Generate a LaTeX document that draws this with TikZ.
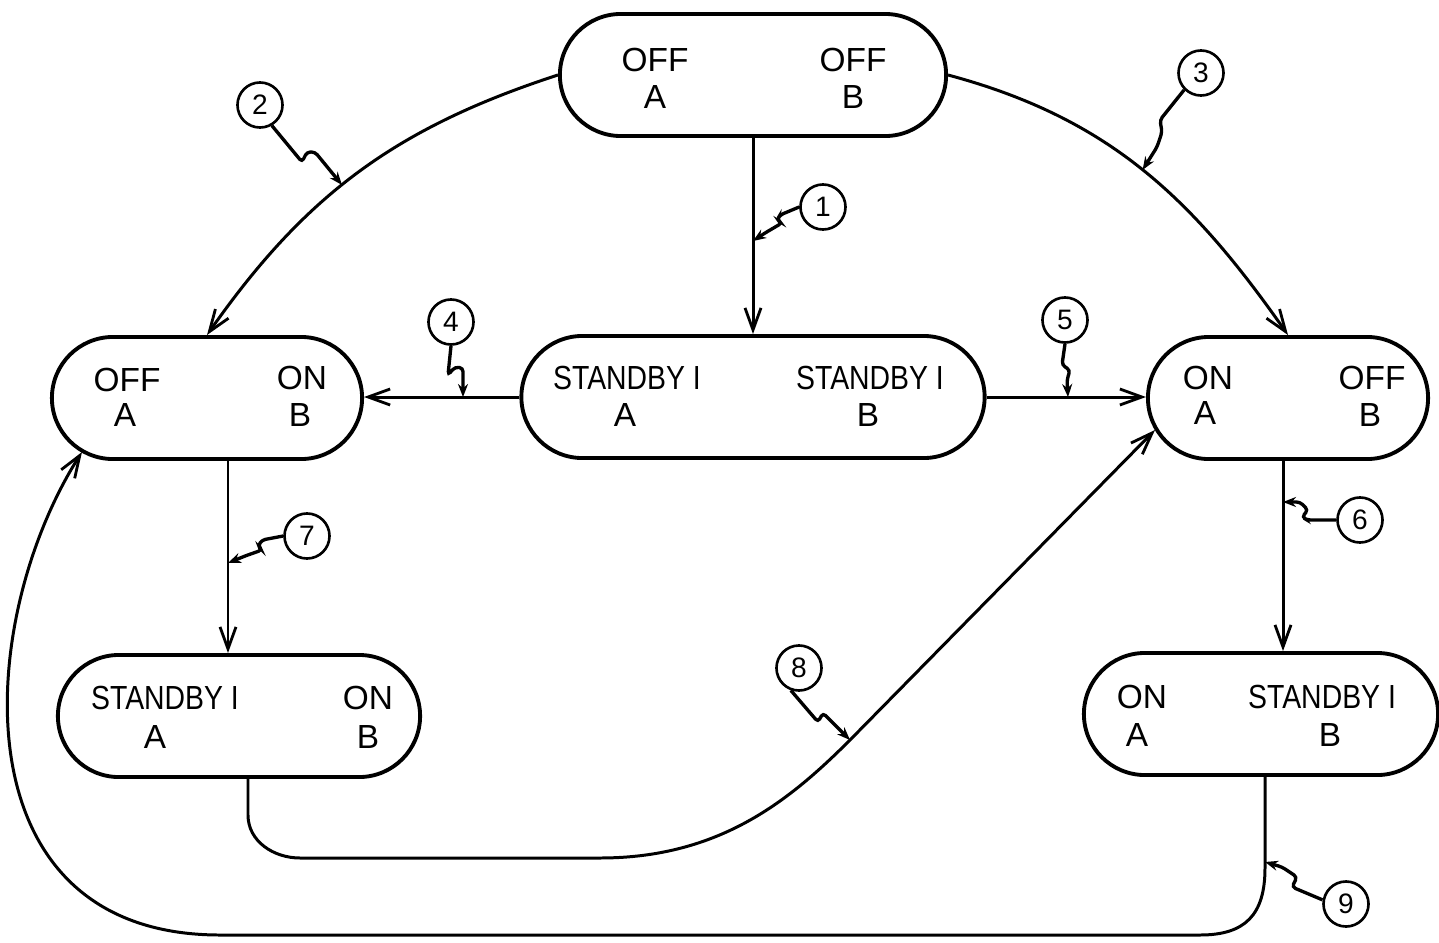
\documentclass[tikz,border=0pt]{standalone}
\usepackage{fontspec}
\setmainfont{Liberation Sans}
\newfontfamily\narrowfont[FakeStretch=0.85]{Liberation Sans}
\usetikzlibrary{arrows.meta,calc}
\begin{document}
\begin{tikzpicture}[x=0.01cm,y=-0.01cm,
  state/.style={draw, line width=1.1pt, rounded corners=0.61cm, minimum height=1.22cm, inner sep=0pt},
  lbl/.style={font=\fontsize{9.5}{10}\selectfont, inner sep=0pt},
  conn/.style={line width=0.85pt, -{Straight Barb[length=0.22cm,width=0.16cm,line width=0.8pt]}},
  tag/.style={draw, circle, line width=0.75pt, minimum size=0.45cm, inner sep=0pt, font=\fontsize{8}{8}\selectfont},
  leader/.style={line width=0.95pt, rounded corners=1pt, -{Stealth[length=0.13cm,width=0.1cm]}}]
\useasboundingbox (0,0) rectangle (1439,942);
\fill[white] (0,0) rectangle (1439,942);

% states
\node[state, minimum width=3.86cm] (N1) at (753,75) {};
\node[state, minimum width=3.10cm] (N2) at (207,398) {};
\node[state, minimum width=4.63cm] (N3) at (753,397) {};
\node[state, minimum width=2.80cm] (N4) at (1288,398) {};
\node[state, minimum width=3.62cm] (N5) at (239,716) {};
\node[state, minimum width=3.54cm] (N6) at (1261,714) {};

% state texts
\node[lbl] (t1a) at (655,60) {OFF};
\node[lbl] (t1b) at (655,97) {A};
\node[lbl] (t1c) at (853,60) {OFF};
\node[lbl] (t1d) at (853,97) {B};

\node[lbl] (t2a) at (127,380) {OFF};
\node[lbl] (t2b) at (125,415) {A};
\node[lbl] (t2c) at (302,378) {ON};
\node[lbl] (t2d) at (300,415) {B};

\node[lbl] (t3a) at (627,378) {\narrowfont STANDBY I};
\node[lbl] (t3b) at (625,415) {A};
\node[lbl] (t3c) at (870,378) {\narrowfont STANDBY I};
\node[lbl] (t3d) at (868,415) {B};

\node[lbl] (t4a) at (1208,378) {ON};
\node[lbl] (t4b) at (1205,413) {A};
\node[lbl] (t4c) at (1372,378) {OFF};
\node[lbl] (t4d) at (1370,415) {B};

\node[lbl] (t5a) at (165,698) {\narrowfont STANDBY I};
\node[lbl] (t5b) at (155,737) {A};
\node[lbl] (t5c) at (368,698) {ON};
\node[lbl] (t5d) at (368,737) {B};

\node[lbl] (t6a) at (1142,697) {ON};
\node[lbl] (t6b) at (1137,735) {A};
\node[lbl] (t6c) at (1322,697) {\narrowfont STANDBY I};
\node[lbl] (t6d) at (1330,735) {B};

% helper coordinates
\coordinate (c6) at (1283,0);
\coordinate (c7) at (228,0);
\coordinate (c8) at (248,0);
\coordinate (c9) at (1265,0);
\coordinate (e8) at ($(N4.west)+(9,32)$);
\coordinate (e9) at ($(N2.west)+(32,54)$);

% connectors
\draw[conn] (N1) -- (N3);
\draw[conn] (N1.west) to[out=198,in=55] coordinate[pos=0.55] (p2) (N2.north);
\draw[conn] (N1.east) to[out=-15,in=125] coordinate[pos=0.5] (p3) (N4.north);
\draw[conn] (N3.west) -- (N3.west -| N2.east);
\draw[conn] (N3.east) -- (N3.east -| N4.west);
\draw[conn] (N4.south -| c6) -- (N6.north -| c6);
\draw[conn] (N2.south -| c7) -- (N5.north -| c7);
\draw[conn] (N5.south -| c8) -- (248,815) to[out=-90,in=180] (300,858) -- (600,858)
  .. controls (720,858) and (790,800) .. (850,740) coordinate (p8) -- (e8);
\draw[conn] (N6.south -| c9) -- (1265,868) .. controls (1265,915) and (1245,935) .. (1200,935)
  -- (220,935) .. controls (-45,935) and (-25,620) .. (e9);

% tags
\node[tag] (L1) at (823,207) {1};
\node[tag] (L2) at (260,105) {2};
\node[tag] (L3) at (1201,73) {3};
\node[tag] (L4) at (451,322) {4};
\node[tag] (L5) at (1065,320) {5};
\node[tag] (L6) at (1360,520) {6};
\node[tag] (L7) at (307,536) {7};
\node[tag] (L8) at (799,668) {8};
\node[tag] (L9) at (1346,904) {9};

\coordinate (p1) at (753,241);
\coordinate (p4) at (463,397);
\coordinate (p5) at (1068,397);
\coordinate (p6) at (1283,502);
\coordinate (p7) at (228,563);
\coordinate (p9) at (1265,862);

% leaders
\draw[leader] (L1.west) -- (780,215) -- (777,220) -- (782,223) -- (765,233) -- (p1);
\draw[leader] (L2.-60) -- (302,162) -- (307,152) -- (315,152) -- (p2);
\draw[leader] (L3.-135) -- (1160,120) -- (1162,132) -- (1157,147) -- (p3);
\draw[leader] (L4.south) -- (448,375) -- (455,367) -- (463,368) -- (p4);
\draw[leader] (L5.south) -- (1062,365) -- (1070,370) -- (1067,380) -- (p5);
\draw[leader] (L6.west) -- (1307,520) -- (1302,517) -- (1308,510) -- (1300,502) -- (p6);
\draw[leader] (L7.west) -- (262,540) -- (258,546) -- (262,550) -- (245,556) -- (p7);
\draw[leader] (L8.-110) -- (818,722) -- (823,713) -- (830,720) -- (p8);
\draw[leader] (L9.170) -- (1292,887) -- (1297,877) -- (1282,867) -- (p9);
\end{tikzpicture}
\end{document}
